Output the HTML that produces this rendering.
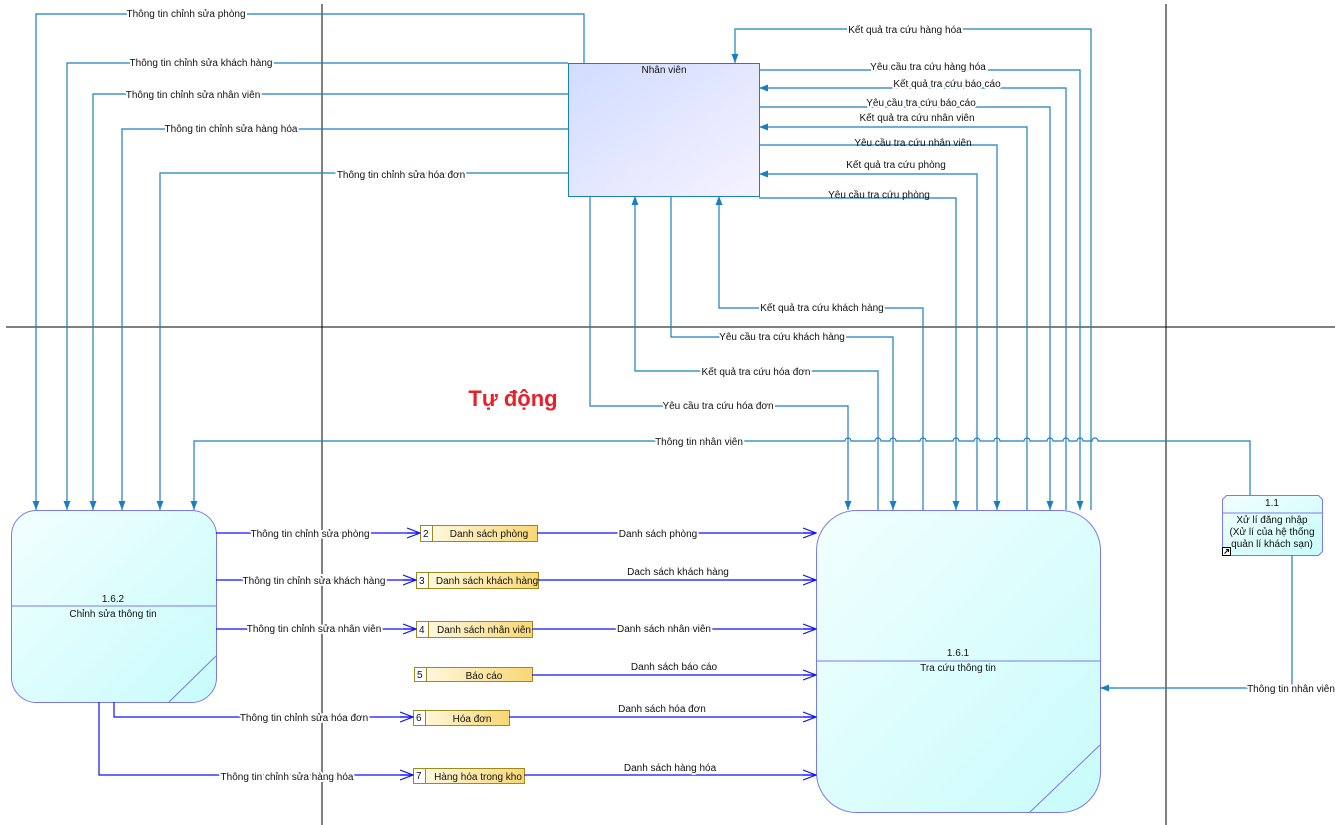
<!DOCTYPE html>
<html><head><meta charset="utf-8"><style>
body{margin:0;background:#fff}
svg{display:block}
text{font-family:"Liberation Sans",sans-serif;font-size:10px;fill:#111}
.l{paint-order:stroke;stroke:#fff;stroke-width:4px;stroke-linejoin:round}
.c{fill:none;stroke:#1a7fc1;stroke-width:1.2}
.d{fill:none;stroke:#1010ff;stroke-width:1.2}
</style></head><body>
<svg width="1335" height="825" viewBox="0 0 1335 825">
<defs>
<marker id="a" markerWidth="10" markerHeight="10" refX="9" refY="5" orient="auto" markerUnits="userSpaceOnUse"><path d="M0,1.5 L9,5 L0,8.5 Z" fill="#1a7fc1"/></marker>
<marker id="o" markerWidth="14" markerHeight="12" refX="13" refY="6" orient="auto" markerUnits="userSpaceOnUse"><path d="M0,1 L13,6 L0,11 M0,6 L13,6" fill="none" stroke="#1010ff" stroke-width="1.2"/></marker>
<linearGradient id="g1" x1="0" y1="0" x2="1" y2="1"><stop offset="0" stop-color="#d0dcff"/><stop offset="1" stop-color="#f6f2ff"/></linearGradient>
<linearGradient id="g2" x1="0" y1="0" x2="1" y2="1"><stop offset="0" stop-color="#f2ffff"/><stop offset="1" stop-color="#c8fbfb"/></linearGradient>
<linearGradient id="g3" x1="0" y1="0" x2="1" y2="0"><stop offset="0" stop-color="#fffbe8"/><stop offset="1" stop-color="#f8d774"/></linearGradient>
</defs>
<line x1="322" y1="4" x2="322" y2="825" stroke="#000"/>
<line x1="1166" y1="4" x2="1166" y2="825" stroke="#000"/>
<line x1="6" y1="327" x2="1335" y2="327" stroke="#000"/>

<rect x="568.5" y="63.5" width="191" height="133" fill="url(#g1)" stroke="#1a7fc1"/>
<text x="664" y="73" text-anchor="middle">Nhân viên</text>

<path class="c" marker-end="url(#a)" d="M584,63 V14 H36 V510"/>
<text class="l" x="186" y="17" text-anchor="middle">Thông tin chỉnh sửa phòng</text>
<path class="c" marker-end="url(#a)" d="M568,63 H67 V510"/>
<text class="l" x="201" y="66" text-anchor="middle">Thông tin chỉnh sửa khách hàng</text>
<path class="c" marker-end="url(#a)" d="M568,94 H93 V510"/>
<text class="l" x="193" y="98" text-anchor="middle">Thông tin chỉnh sửa nhân viên</text>
<path class="c" marker-end="url(#a)" d="M568,129 H122 V510"/>
<text class="l" x="231" y="132" text-anchor="middle">Thông tin chỉnh sửa hàng hóa</text>
<path class="c" marker-end="url(#a)" d="M568,173 H160 V510"/>
<text class="l" x="401" y="178" text-anchor="middle">Thông tin chỉnh sửa hóa đơn</text>

<path class="c" marker-end="url(#a)" d="M1091,510 V29 H735 V63"/>
<text class="l" x="905" y="33" text-anchor="middle">Kết quả tra cứu hàng hóa</text>
<path class="c" marker-end="url(#a)" d="M759,70 H1080 V510"/>
<text class="l" x="928" y="70" text-anchor="middle">Yêu cầu tra cứu hàng hóa</text>
<path class="c" marker-end="url(#a)" d="M1066,510 V88 H759"/>
<text class="l" x="947" y="87" text-anchor="middle">Kết quả tra cứu báo cáo</text>
<path class="c" marker-end="url(#a)" d="M759,107 H1050 V510"/>
<text class="l" x="921" y="106" text-anchor="middle">Yêu cầu tra cứu báo cáo</text>
<path class="c" marker-end="url(#a)" d="M1027,510 V127 H759"/>
<text class="l" x="917" y="121" text-anchor="middle">Kết quả tra cứu nhân viên</text>
<path class="c" marker-end="url(#a)" d="M759,145 H997 V510"/>
<text x="913" y="146" text-anchor="middle">Yêu cầu tra cứu nhân viên</text>
<path class="c" marker-end="url(#a)" d="M977,510 V174 H759"/>
<text class="l" x="896" y="168" text-anchor="middle">Kết quả tra cứu phòng</text>
<path class="c" marker-end="url(#a)" d="M759,198 H956 V510"/>
<text x="879" y="198" text-anchor="middle">Yêu cầu tra cứu phòng</text>

<path class="c" marker-end="url(#a)" d="M923,510 V308 H719 V196"/>
<text class="l" x="822" y="311" text-anchor="middle">Kết quả tra cứu khách hàng</text>
<path class="c" marker-end="url(#a)" d="M671,196 V337 H893 V510"/>
<text class="l" x="782" y="340" text-anchor="middle">Yêu cầu tra cứu khách hàng</text>
<path class="c" marker-end="url(#a)" d="M878,510 V371 H635 V196"/>
<text class="l" x="756" y="375" text-anchor="middle">Kết quả tra cứu hóa đơn</text>
<path class="c" marker-end="url(#a)" d="M590,196 V406 H848 V510"/>
<text class="l" x="718" y="409" text-anchor="middle">Yêu cầu tra cứu hóa đơn</text>

<path class="c" marker-end="url(#a)" d="M1250,495 V441 H1098 a3,3 0 0 0 -6,0 H1083 a3,3 0 0 0 -6,0 H1069 a3,3 0 0 0 -6,0 H1053 a3,3 0 0 0 -6,0 H1030 a3,3 0 0 0 -6,0 H1000 a3,3 0 0 0 -6,0 H980 a3,3 0 0 0 -6,0 H959 a3,3 0 0 0 -6,0 H926 a3,3 0 0 0 -6,0 H896 a3,3 0 0 0 -6,0 H881 a3,3 0 0 0 -6,0 H851 a3,3 0 0 0 -6,0 H194 V510"/>
<text class="l" x="699" y="445" text-anchor="middle">Thông tin nhân viên</text>

<text x="513" y="406" text-anchor="middle" style="font-size:22px;font-weight:bold;fill:#e8202a">Tự động</text>

<rect x="11.5" y="510.5" width="205" height="192" rx="25" fill="url(#g2)" stroke="#7a7af0"/>
<line x1="11.5" y1="606" x2="216.5" y2="606" stroke="#7a7af0"/>
<line x1="169" y1="702" x2="216" y2="656" stroke="#7a7af0"/>
<text x="113" y="602" text-anchor="middle">1.6.2</text>
<text x="113" y="617" text-anchor="middle">Chỉnh sửa thông tin</text>

<rect x="816.5" y="510.5" width="284" height="302" rx="40" fill="url(#g2)" stroke="#7a7af0"/>
<line x1="816.5" y1="661" x2="1100.5" y2="661" stroke="#7a7af0"/>
<line x1="1030" y1="812" x2="1100" y2="745" stroke="#7a7af0"/>
<text x="958" y="656" text-anchor="middle">1.6.1</text>
<text x="958" y="671" text-anchor="middle">Tra cứu thông tin</text>

<path d="M1226.5,495.5 H1318.5 L1322.5,499.5 V551.5 L1318.5,555.5 H1226.5 L1222.5,551.5 V499.5 Z" fill="url(#g2)" stroke="#7a7af0"/>
<line x1="1222.5" y1="513" x2="1322.5" y2="513" stroke="#7a7af0"/>
<text x="1272" y="506" text-anchor="middle">1.1</text>
<text x="1272" y="523" text-anchor="middle">Xử lí đăng nhập</text>
<text x="1272" y="535" text-anchor="middle">(Xử lí của hệ thống</text>
<text x="1272" y="547" text-anchor="middle">quản lí khách sạn)</text>
<rect x="1222.5" y="547.5" width="8" height="8" fill="#fff" stroke="#000"/>
<path d="M1224.5,553.5 L1228.5,549.5 M1226,549.5 H1228.5 V552" stroke="#000" fill="none"/>
<path class="c" marker-end="url(#a)" d="M1292,555 V688 H1100"/>
<text class="l" x="1291" y="692" text-anchor="middle">Thông tin nhân viên</text>

<g stroke="#9a8a20" fill="url(#g3)">
<rect x="420.5" y="525.5" width="117" height="16"/>
<rect x="416.5" y="572.5" width="122" height="16"/>
<rect x="416.5" y="621.5" width="116" height="16"/>
<rect x="414.5" y="667.5" width="118" height="14"/>
<rect x="413.5" y="710.5" width="96" height="15"/>
<rect x="413.5" y="768.5" width="111" height="15"/>
</g>
<g stroke="#9a8a20" fill="#fff">
<rect x="420.5" y="525.5" width="12" height="16"/>
<rect x="416.5" y="572.5" width="12" height="16"/>
<rect x="416.5" y="621.5" width="12" height="16"/>
<rect x="414.5" y="667.5" width="12" height="14"/>
<rect x="413.5" y="710.5" width="12" height="15"/>
<rect x="413.5" y="768.5" width="12" height="15"/>
</g>
<text x="423" y="537">2</text><text x="489" y="537" text-anchor="middle">Danh sách phòng</text>
<text x="419" y="584">3</text><text x="487" y="584" text-anchor="middle">Danh sách khách hàng</text>
<text x="419" y="633">4</text><text x="484" y="633" text-anchor="middle">Danh sách nhân viên</text>
<text x="417" y="678">5</text><text x="484" y="679" text-anchor="middle">Báo cáo</text>
<text x="416" y="721">6</text><text x="472" y="722" text-anchor="middle">Hóa đơn</text>
<text x="416" y="779">7</text><text x="478" y="780" text-anchor="middle">Hàng hóa trong kho</text>

<path class="d" marker-end="url(#o)" d="M216,533 H420"/>
<text class="l" x="310" y="537" text-anchor="middle">Thông tin chỉnh sửa phòng</text>
<path class="d" marker-end="url(#o)" d="M216,580 H416"/>
<text class="l" x="314" y="584" text-anchor="middle">Thông  tin chỉnh sửa khách hàng</text>
<path class="d" marker-end="url(#o)" d="M216,629 H416"/>
<text class="l" x="314" y="632" text-anchor="middle">Thông tin chỉnh sửa nhân viên</text>
<path class="d" marker-end="url(#o)" d="M114,702 V717 H413"/>
<text class="l" x="304" y="721" text-anchor="middle">Thông tin chỉnh sửa hóa đơn</text>
<path class="d" marker-end="url(#o)" d="M99,702 V775 H413"/>
<text class="l" x="287" y="780" text-anchor="middle">Thông tin chỉnh sửa hàng hóa</text>

<path class="d" marker-end="url(#o)" d="M537,533 H816"/>
<text class="l" x="658" y="537" text-anchor="middle">Danh sách phòng</text>
<path class="d" marker-end="url(#o)" d="M538,580 H816"/>
<text class="l" x="678" y="575" text-anchor="middle">Dach sách khách hàng</text>
<path class="d" marker-end="url(#o)" d="M532,629 H816"/>
<text class="l" x="664" y="632" text-anchor="middle">Danh sách nhân viên</text>
<path class="d" marker-end="url(#o)" d="M532,675 H816"/>
<text class="l" x="674" y="670" text-anchor="middle">Danh sách báo cáo</text>
<path class="d" marker-end="url(#o)" d="M509,717 H816"/>
<text class="l" x="662" y="712" text-anchor="middle">Danh sách hóa đơn</text>
<path class="d" marker-end="url(#o)" d="M524,775 H816"/>
<text class="l" x="670" y="771" text-anchor="middle">Danh sách hàng hóa</text>
</svg>
</body></html>
